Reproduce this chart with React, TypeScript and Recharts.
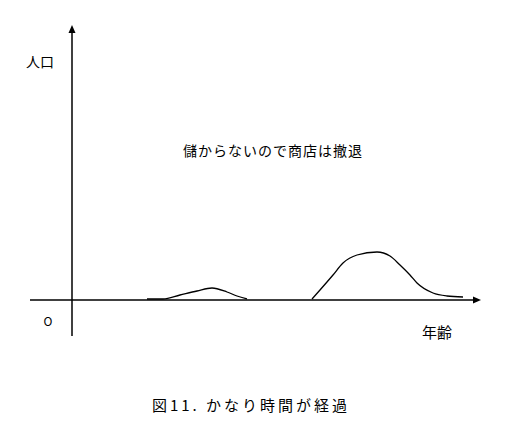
import React from 'react';
import { LineChart, Line, XAxis, YAxis, ReferenceLine } from 'recharts';

// age (x) and population (y); origin is where the axes cross
const youngAges = [75, 91, 108, 125, 140, 155, 165, 175];
const youngPop = [1, 1, 5, 9, 12, 8, 4, 1];
const oldAges = [240, 248, 261, 271, 285, 305, 318, 328, 338, 345, 361, 375, 391];
const oldPop = [1, 10, 25, 37, 45, 48, 44, 35, 25, 17, 7, 4, 3];

const youngData = youngAges.map((age, i) => ({ age, pop: youngPop[i] }));
const oldData = oldAges.map((age, i) => ({ age, pop: oldPop[i] }));

const W = 508;
const H = 429;

const ArrowLine = (props: any) => {
  const { x1, y1, x2, y2 } = props;
  const dx = x2 - x1;
  const dy = y2 - y1;
  const len = Math.sqrt(dx * dx + dy * dy) || 1;
  const ux = dx / len;
  const uy = dy / len;
  const head = 8;
  const half = 3.5;
  const bx = x2 - ux * head;
  const by = y2 - uy * head;
  const pts = `${x2},${y2} ${bx - uy * half},${by + ux * half} ${bx + uy * half},${by - ux * half}`;
  return (
    <g>
      <line x1={x1} y1={y1} x2={bx} y2={by} stroke="#000" strokeWidth={1.5} />
      <polygon points={pts} fill="#000" />
    </g>
  );
};

const txt = (left: number, top: number, size: number, spacing = 0): React.CSSProperties => ({
  position: 'absolute',
  left,
  top,
  transform: 'translate(-50%, -50%)',
  fontFamily: '"Noto Sans CJK JP", "Noto Sans", sans-serif',
  fontSize: size,
  lineHeight: 1,
  letterSpacing: spacing,
  whiteSpace: 'nowrap',
  color: '#000'
});

export default function App() {
  return (
    <div style={{ position: 'absolute', left: 0, top: 0, width: W, height: H, background: '#fff' }}>
      <LineChart width={W} height={H} margin={{ top: 0, right: 0, bottom: 0, left: 0 }}>
        <XAxis type="number" dataKey="age" domain={[-72, 436]} hide allowDuplicatedCategory={false} />
        <YAxis type="number" domain={[-129, 300]} hide />
        <ReferenceLine segment={[{ x: -42, y: 0 }, { x: 409, y: 0 }]} shape={ArrowLine} />
        <ReferenceLine segment={[{ x: 0, y: -36 }, { x: 0, y: 275 }]} shape={ArrowLine} />
        <Line
          data={youngData}
          type="monotone"
          dataKey="pop"
          stroke="#000"
          strokeWidth={1.3}
          dot={false}
          activeDot={false}
          isAnimationActive={false}
        />
        <Line
          data={oldData}
          type="monotone"
          dataKey="pop"
          stroke="#000"
          strokeWidth={1.3}
          dot={false}
          activeDot={false}
          isAnimationActive={false}
        />
      </LineChart>
      <span style={txt(40, 61, 14)}>人口</span>
      <span style={txt(48, 321, 12)}>O</span>
      <span style={txt(437, 331, 15)}>年齢</span>
      <span style={txt(273, 150, 14, 1)}>儲からないので商店は撤退</span>
      <span style={txt(251, 404, 15, 3)}>図11. かなり時間が経過</span>
    </div>
  );
}
